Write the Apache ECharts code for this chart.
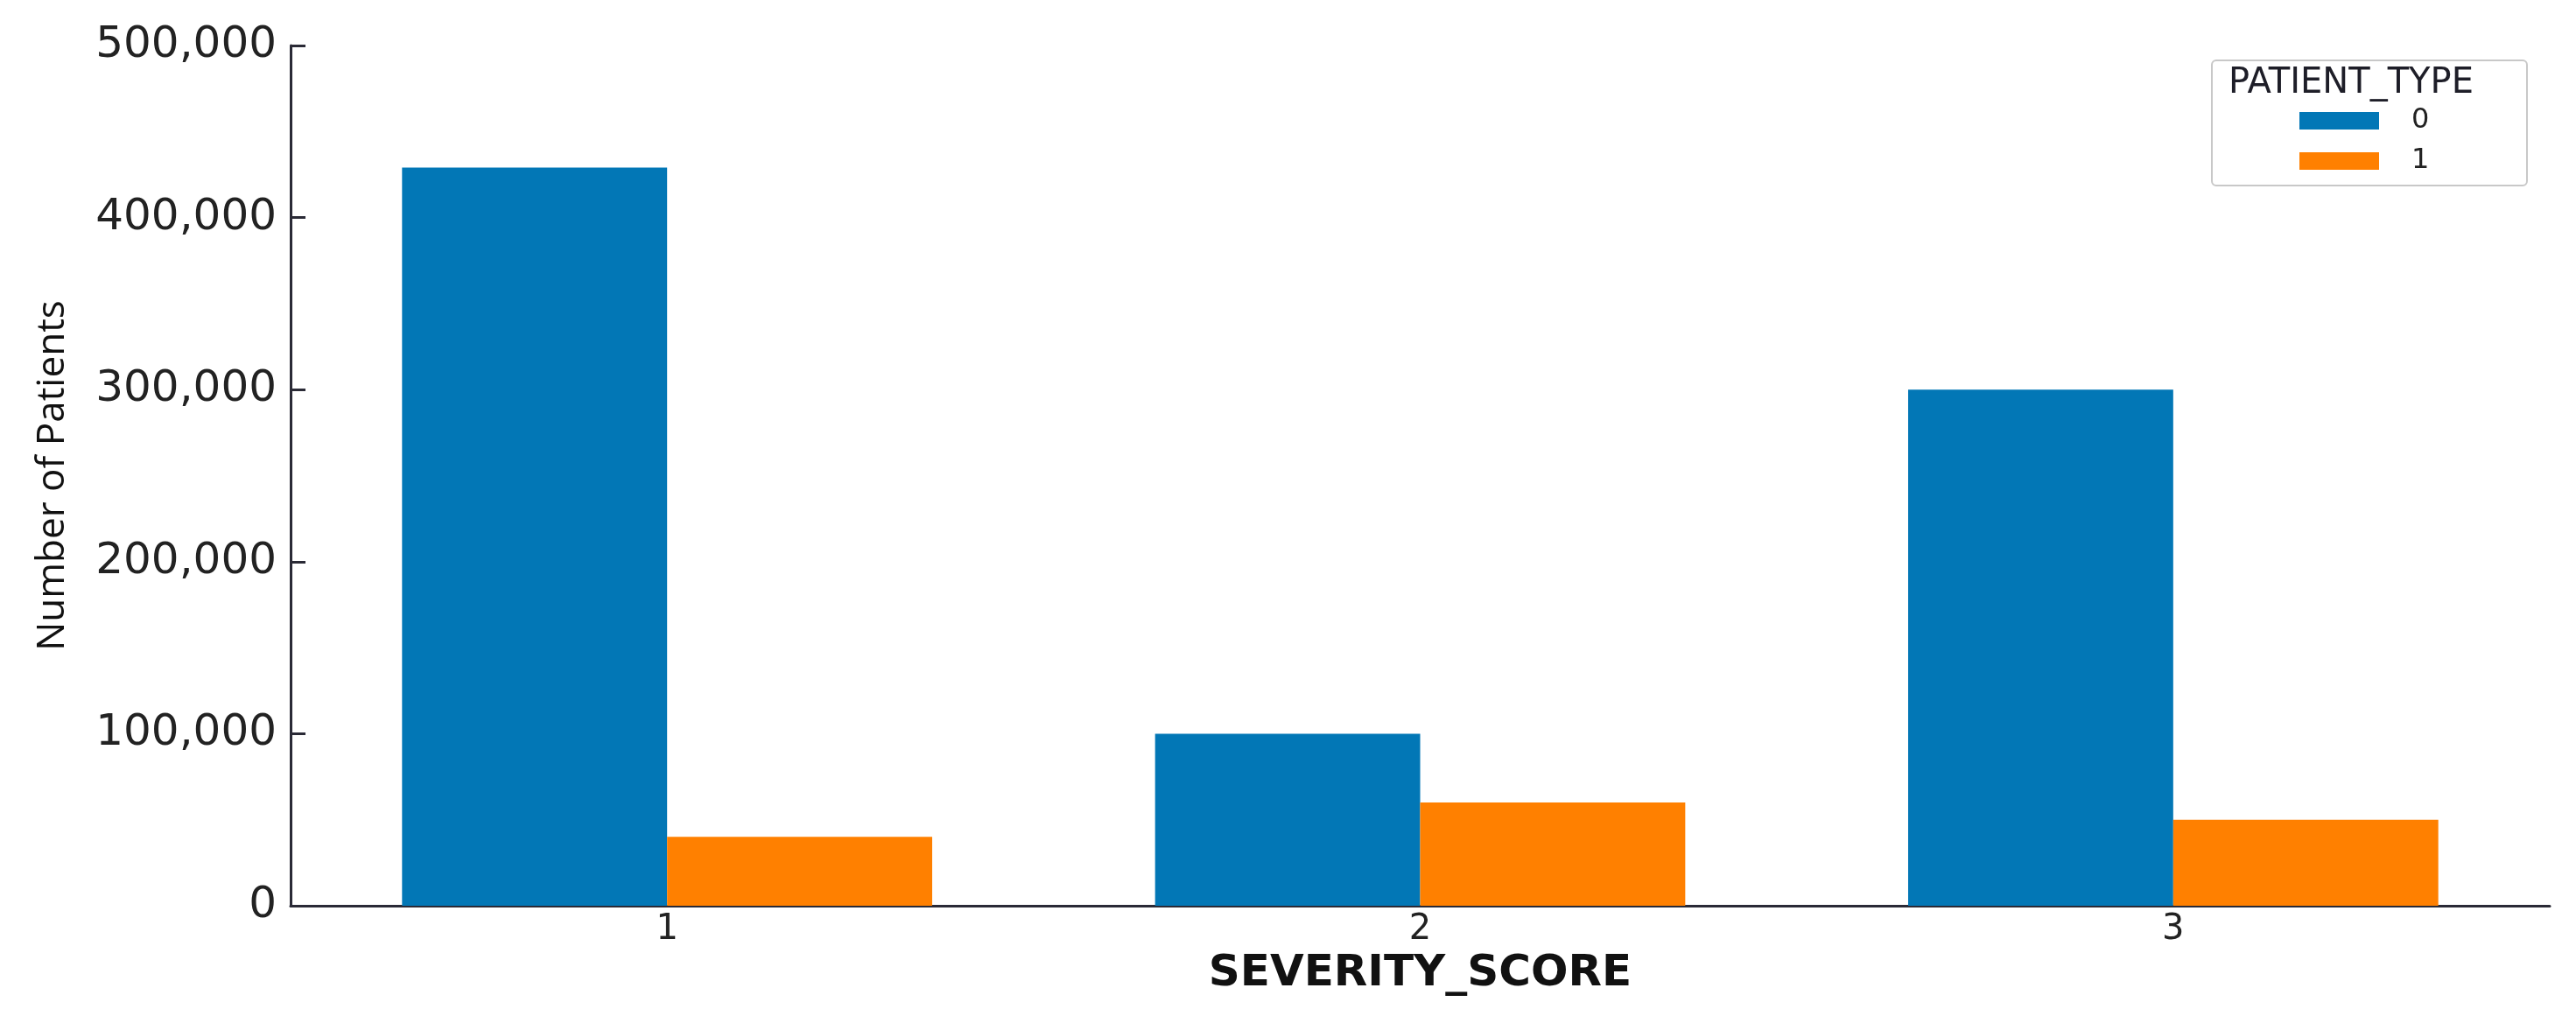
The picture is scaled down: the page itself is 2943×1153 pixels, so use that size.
<!DOCTYPE html>
<html>
<head>
<meta charset="utf-8">
<script src="https://cdn.jsdelivr.net/npm/echarts@6/dist/echarts.min.js"></script>
<style>
html,body{margin:0;padding:0;background:#fff;}
#chart{width:2943px;height:1153px;}
</style>
</head>
<body>
<div id="chart"></div>
<script>
var categories = ['1', '2', '3'];
var seriesNames = ['0', '1'];
var type0Values = [429000, 100000, 300000];
var type1Values = [40000, 60000, 50000];
var yTicks = [0, 100000, 200000, 300000, 400000, 500000];
var legendTitle = 'PATIENT_TYPE';
var xTitle = 'SEVERITY_SCORE';
var yTitle = 'Number of Patients';

var chart = echarts.init(document.getElementById('chart'), null, {renderer: 'canvas'});
var axisColor = '#2a2a36';
var option = {
  backgroundColor: '#ffffff',
  animation: false,
  grid: {left: 332, right: 30, top: 52, bottom: 118, containLabel: false},
  legend: {
    data: seriesNames,
    orient: 'vertical',
    left: 2627,
    top: 122,
    itemWidth: 91,
    itemHeight: 20,
    itemGap: 14,
    icon: 'rect',
    padding: 0,
    textStyle: {fontFamily: 'DejaVu Sans', fontSize: 32, color: '#222', padding: [0, 0, 0, 32]}
  },
  graphic: [
    {type: 'rect', left: 2526, top: 68, z: -1,
     shape: {width: 360, height: 143, r: 5},
     style: {fill: '#ffffff', stroke: '#c8c8c8', lineWidth: 2}},
    {type: 'text', left: 2546, top: 76, z: 10,
     style: {text: legendTitle, font: '40px "DejaVu Sans"', fill: '#1e1e28'}}
  ],
  xAxis: {
    type: 'category',
    data: categories,
    name: xTitle,
    nameLocation: 'middle',
    nameGap: 50,
    nameTextStyle: {fontFamily: 'DejaVu Sans', fontWeight: 'bold', fontSize: 50, color: '#111'},
    axisLine: {lineStyle: {color: axisColor, width: 3}},
    axisTick: {show: false},
    axisLabel: {fontFamily: 'DejaVu Sans', fontSize: 40, color: '#222', margin: 8}
  },
  yAxis: {
    type: 'value',
    min: yTicks[0],
    max: yTicks[yTicks.length - 1],
    interval: yTicks[1] - yTicks[0],
    name: yTitle,
    nameLocation: 'middle',
    nameGap: 250,
    nameTextStyle: {fontFamily: 'Open Sans', fontSize: 44, color: '#111'},
    axisLine: {show: true, lineStyle: {color: axisColor, width: 3}},
    axisTick: {show: true, inside: true, length: 17, lineStyle: {color: axisColor, width: 3}},
    splitLine: {show: false},
    axisLabel: {
      fontFamily: 'DejaVu Sans', fontSize: 50, color: '#222', margin: 16,
      formatter: function (v) { return v.toLocaleString('en-US'); }
    }
  },
  series: [
    {name: seriesNames[0], type: 'bar', data: type0Values, barWidth: '35.2%', barGap: '0%',
     itemStyle: {color: '#0277b6'}},
    {name: seriesNames[1], type: 'bar', data: type1Values, barWidth: '35.2%', barGap: '0%',
     itemStyle: {color: '#ff8000'}}
  ]
};
chart.setOption(option);
</script>
</body>
</html>
